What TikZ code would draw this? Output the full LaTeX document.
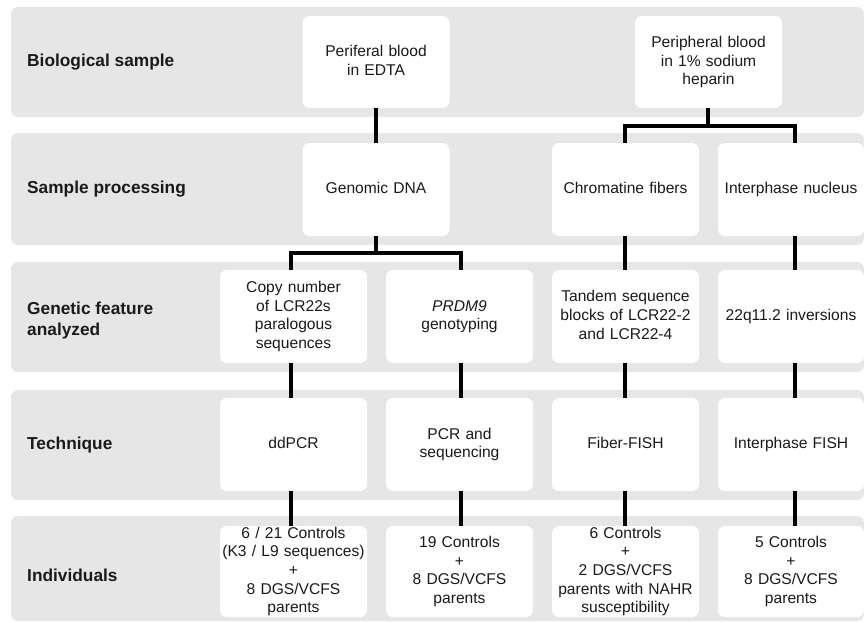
\documentclass[tikz,border=0pt]{standalone}
\usepackage{fontspec}
\setmainfont{Liberation Sans}
\definecolor{bandgray}{HTML}{E6E6E6}
\definecolor{txt}{HTML}{1A1A1A}
\newcommand\boxfont{\fontsize{15.6}{18.6}\selectfont}
\newcommand\labfont{\fontsize{17.3}{20.6}\selectfont\bfseries}
\begin{document}
\begin{tikzpicture}[x=1pt,y=-1pt,
  band/.style={fill=bandgray, rounded corners=7pt},
  box/.style={fill=white, rounded corners=7pt, minimum width=147pt, minimum height=93pt,
    text width=147pt, inner sep=0pt, outer sep=0pt, align=center, font=\boxfont, text=txt,
    execute at begin node={\vphantom{Hd}}, execute at end node={\vphantom{gpq}}},
  lab/.style={anchor=west, align=left, font=\labfont, text=txt, inner sep=0pt},
  conn/.style={line width=3.9pt, draw=black}]
\useasboundingbox (0,0) rectangle (864,623);
% bands
\fill[band] (11,7) rectangle (864,117);
\fill[band] (11,133) rectangle (864,245);
\fill[band] (11,262) rectangle (864,372);
\fill[band] (11,390) rectangle (864,500);
\fill[band] (11,516) rectangle (864,621);
% row labels
\node[lab] (l1) at (27,62.5) {Biological sample};
\node[lab] (l2) at (27,189.5) {Sample processing};
\node[lab] (l3) at (27,320.5) {Genetic feature\\analyzed};
\node[lab] (l4) at (27,445) {Technique};
\node[lab] (l5) at (27,575) {Individuals};
% row 1
\node[box, minimum height=92pt] (edta) at (376,62) {Periferal blood\\in EDTA};
\node[box, minimum height=92pt] (hep) at (708.5,62) {Peripheral blood\\in 1\% sodium\\heparin};
% row 2
\node[box] (gdna) at (376,189.5) {Genomic DNA};
\node[box] (chrom) at (625.5,189.5) {Chromatine fibers};
\node[box, minimum width=146pt, text width=146pt] (inuc) at (791,189.5) {Interphase nucleus};
% row 3
\node[box] (copy) at (293.5,316.5) {Copy number\\of LCR22s\\paralogous\\sequences};
\node[box] (prdm) at (459.5,316.5) {\textit{PRDM9}\\genotyping};
\node[box] (tand) at (625.5,316.5) {Tandem sequence\\blocks of LCR22-2\\and LCR22-4};
\node[box, minimum width=146pt, text width=146pt] (inv) at (791,316.5) {22q11.2 inversions};
% row 4
\node[box] (ddpcr) at (293.5,444.5) {ddPCR};
\node[box] (pcr) at (459.5,444.5) {PCR and\\sequencing};
\node[box] (fiber) at (625.5,444.5) {Fiber-FISH};
\node[box, minimum width=146pt, text width=146pt] (ifish) at (791,444.5) {Interphase FISH};
% row 5
\node[box, minimum height=91pt] (ind1) at (293.5,571.5) {6 / 21 Controls\\(K3 / L9 sequences)\\+\\8 DGS/VCFS\\parents};
\node[box, minimum height=91pt] (ind2) at (459.5,571.5) {19 Controls\\+\\8 DGS/VCFS\\parents};
\node[box, minimum height=91pt] (ind3) at (625.5,571.5) {6 Controls\\+\\2 DGS/VCFS\\parents with NAHR\\susceptibility};
\node[box, minimum height=91pt, minimum width=146pt, text width=146pt] (ind4) at (791,571.5) {5 Controls\\+\\8 DGS/VCFS\\parents};
% junctions
\coordinate (j1) at (376,253);
\coordinate (j2) at (708,126);
% connectors
\draw[conn] (edta.south) -- (gdna.north);
\draw[conn] (gdna.south) -- (j1);
\draw[conn] ([xshift=-2.5pt]copy.north) |- (j1) -| ([xshift=1.5pt]prdm.north);
\draw[conn] ([xshift=-0.5pt]hep.south) -- (j2);
\draw[conn] ([xshift=-0.5pt]chrom.north) |- (j2) -| ([xshift=4pt]inuc.north);
\draw[conn] ([xshift=-0.5pt]chrom.south) -- ([xshift=-0.5pt]tand.north);
\draw[conn] ([xshift=4pt]inuc.south) -- ([xshift=4pt]inv.north);
\draw[conn] ([xshift=-2.5pt]copy.south) -- ([xshift=-2.5pt]ddpcr.north);
\draw[conn] ([xshift=1.5pt]prdm.south) -- ([xshift=1.5pt]pcr.north);
\draw[conn] ([xshift=-0.5pt]tand.south) -- ([xshift=-0.5pt]fiber.north);
\draw[conn] ([xshift=4pt]inv.south) -- ([xshift=4pt]ifish.north);
\draw[conn] ([xshift=-2.5pt]ddpcr.south) -- ([xshift=-2.5pt]ind1.north);
\draw[conn] ([xshift=1.5pt]pcr.south) -- ([xshift=1.5pt]ind2.north);
\draw[conn] ([xshift=-0.5pt]fiber.south) -- ([xshift=-0.5pt]ind3.north);
\draw[conn] ([xshift=4pt]ifish.south) -- ([xshift=4pt]ind4.north);
\end{tikzpicture}
\end{document}
